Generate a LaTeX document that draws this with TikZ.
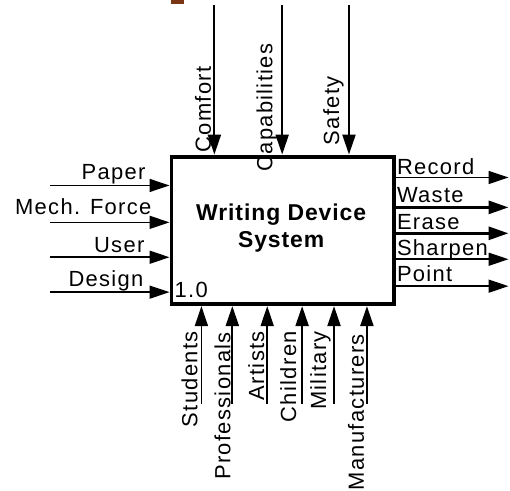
\documentclass[tikz,border=0pt]{standalone}
\usepackage{fontspec}
\setmainfont{Liberation Sans}[LetterSpace=6]
\newfontfamily\titlefont{Liberation Sans}[LetterSpace=4]
\usetikzlibrary{arrows.meta}
\definecolor{markbrown}{HTML}{7A3514}

\begin{document}
\begin{tikzpicture}[x=1bp,y=-1bp,
  lbl/.style={inner sep=0pt, font=\fontsize{22bp}{25bp}\selectfont},
  sysbox/.style={draw, line width=4bp, outer sep=2bp, inner sep=0pt,
    minimum width=223bp, minimum height=148bp},
  titletext/.style={inner sep=0pt, align=center,
    font=\titlefont\bfseries\fontsize{23bp}{27bp}\selectfont},
  flow/.style={line width=2.2bp, -{Triangle[length=20bp,width=13bp]}},
  flowthin/.style={line width=1.6bp, -{Triangle[length=20bp,width=13bp]}},
  flowthick/.style={line width=3bp, -{Triangle[length=20bp,width=13bp]}}]

% page
\fill[white] (0,0) rectangle (510,492);
\fill[markbrown] (172,0) rectangle (185,4);

% activity box
\node[sysbox] (sys) at (283.5,231) {};
\node[titletext] (ttl) at (282,229) {Writing Device\\System};
\node[lbl, anchor=base west] (num) at (175,298) {1.0};

% inputs
\coordinate (i1) at (50,186);
\coordinate (i2) at (50,223);
\coordinate (i3) at (50,258);
\coordinate (i4) at (50,293);
\draw[flowthin] (i1) -- (i1 -| sys.west);
\draw[flowthin] (i2) -- (i2 -| sys.west);
\draw[flowthin] (i3) -- (i3 -| sys.west);
\draw[flowthin] (i4) -- (i4 -| sys.west);
\node[lbl, anchor=base east] (li1) at (146,180) {Paper};
\node[lbl, anchor=base east] (li2) at (152,215) {Mech. Force};
\node[lbl, anchor=base east] (li3) at (145,253) {User};
\node[lbl, anchor=base east] (li4) at (144,287) {Design};

% controls
\coordinate (c1) at (215,5);
\coordinate (c2) at (283,5);
\coordinate (c3) at (350,5);
\draw[flow] (c1) -- (c1 |- sys.north);
\draw[flow] (c2) -- (c2 |- sys.north);
\draw[flow] (c3) -- (c3 |- sys.north);
\node[lbl, rotate=90, anchor=south] (lc1) at (212,110) {Comfort};
\node[lbl, rotate=90, anchor=south] (lc2) at (278,108) {Capabilities};
\node[lbl, rotate=90, anchor=south] (lc3) at (345,111) {Safety};

% outputs
\coordinate (o1) at (510,178);
\coordinate (o2) at (510,208);
\coordinate (o3) at (510,234);
\coordinate (o4) at (510,260);
\coordinate (o5) at (510,287);
\draw[flowthin] (o1 -| sys.east) -- (o1);
\draw[flowthick] (o2 -| sys.east) -- (o2);
\draw[flowthick] (o3 -| sys.east) -- (o3);
\draw[flowthin] (o4 -| sys.east) -- (o4);
\draw[flowthin] (o5 -| sys.east) -- (o5);
\node[lbl, anchor=base west] (lo1) at (398,175) {Record};
\node[lbl, anchor=base west] (lo2) at (398,203) {Waste};
\node[lbl, anchor=base west] (lo3) at (398,230) {Erase};
\node[lbl, anchor=base west] (lo4) at (398,256) {Sharpen};
\node[lbl, anchor=base west] (lo5) at (398,282) {Point};

% mechanisms
\coordinate (m1) at (202,405);
\coordinate (m2) at (233,405);
\coordinate (m3) at (268,405);
\coordinate (m4) at (303,405);
\coordinate (m5) at (335,405);
\coordinate (m6) at (368,405);
\draw[flowthin] (m1) -- (m1 |- sys.south);
\draw[flow] (m2) -- (m2 |- sys.south);
\draw[flowthin] (m3) -- (m3 |- sys.south);
\draw[flow] (m4) -- (m4 |- sys.south);
\draw[flow] (m5) -- (m5 |- sys.south);
\draw[flow] (m6) -- (m6 |- sys.south);
\node[lbl, rotate=90, anchor=base east] (lm1) at (198,332) {Students};
\node[lbl, rotate=90, anchor=base east] (lm2) at (231,333) {Professionals};
\node[lbl, rotate=90, anchor=base east] (lm3) at (265,332) {Artists};
\node[lbl, rotate=90, anchor=base east] (lm4) at (297,332) {Children};
\node[lbl, rotate=90, anchor=base east] (lm5) at (327,332) {Military};
\node[lbl, rotate=90, anchor=base east] (lm6) at (365,335) {Manufacturers};
\end{tikzpicture}
\end{document}
